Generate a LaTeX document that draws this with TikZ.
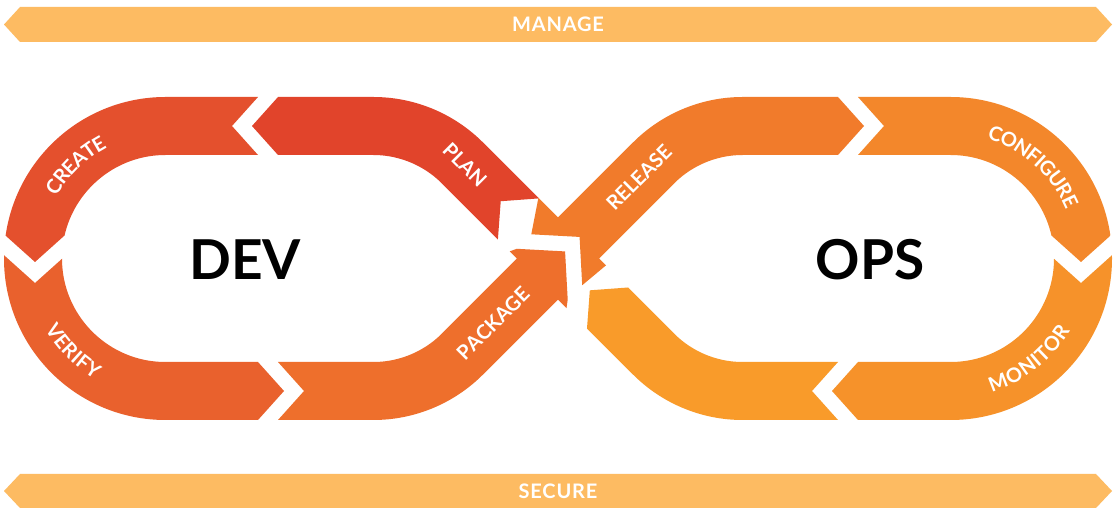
\documentclass[tikz,border=0pt]{standalone}
\usepackage{fontspec}
\setmainfont{Lato}
\newfontfamily\lblfont[LetterSpace=4]{Lato}
\usetikzlibrary{decorations.text}
\definecolor{cPlan}{HTML}{E1442B}
\definecolor{cCreate}{HTML}{E4502D}
\definecolor{cVerify}{HTML}{E9612D}
\definecolor{cPackage}{HTML}{EE6F2C}
\definecolor{cRelease}{HTML}{F17B2B}
\definecolor{cConfig}{HTML}{F3872B}
\definecolor{cMonitor}{HTML}{F6922A}
\definecolor{cBack}{HTML}{F99B2A}
\definecolor{cBar}{HTML}{FDBB62}
\newcommand\lbl{\lblfont\bfseries\fontsize{20}{20}\selectfont\color{white}}
% chevron coordinates: name, x, y, flow angle, tip depth, gap
\newcommand\mkchev[6]{%
  \begin{scope}[shift={(#2,#3)}, rotate=#4]
    \coordinate (#1Ua) at ({#5*(1-36/29)}, 36);
    \coordinate (#1Ut) at (#5, 0);
    \coordinate (#1Ub) at ({#5*(1-36/29)}, -36);
    \coordinate (#1Da) at ({#6+#5*(1-36/29)}, 36);
    \coordinate (#1Dt) at ({#6+#5}, 0);
    \coordinate (#1Db) at ({#6+#5*(1-36/29)}, -36);
  \end{scope}}
\begin{document}
\begin{tikzpicture}[x=1pt,y=1pt,
  seg/.style={line width=58pt, line join=round},
  infloop/.style={insert path={(558,258.5) -- (462.405,354.095)
     arc[start angle=45,end angle=90,radius=126] -- (165.5,391)
     arc[start angle=90,end angle=270,radius=132.5] -- (373.31,126)
     arc[start angle=-90,end angle=-45,radius=126] -- (653.595,354.095)
     arc[start angle=135,end angle=90,radius=126] -- (950.5,391)
     arc[start angle=90,end angle=-90,radius=132.5] -- (742.69,126)
     arc[start angle=-90,end angle=-135,radius=126] -- cycle}},
  lab/.style={decorate, decoration={text along path, text align=center,
     raise=-7.2pt, text={|\lbl|#1}}},
  bartext/.style={text=white, font=\lbl, inner sep=0pt},
  big/.style={font=\bfseries\fontsize{55}{55}\selectfont, text=black, inner sep=0pt}]

\fill[white] (0,0) rectangle (1117,517);
\useasboundingbox (0,0) rectangle (1117,517);

% bars
\fill[cBar] (4,492.5) -- (20,510) -- (1096,510) -- (1112,492.5) -- (1096,475) -- (20,475) -- cycle;
\fill[cBar] (4,26) -- (20,43) -- (1096,43) -- (1112,26) -- (1096,9) -- (20,9) -- cycle;
\node[bartext] (manage) at (558,492.5) {MANAGE};
\node[bartext] (secure) at (558,26) {SECURE};

% chevrons
\mkchev{1}{278}{391}{180}{26}{20}
\mkchev{2}{35}{281}{-90}{26}{21}
\mkchev{3}{258}{126}{0}{26}{20}
\mkchev{4}{546.69}{247.19}{45}{26}{20.5}
\mkchev{5}{838}{391}{0}{26}{20}
\mkchev{6}{1081}{281}{-90}{26}{21}
\mkchev{7}{858}{126}{180}{26}{20}
\mkchev{8}{607.5}{209}{135}{25}{126}

% segments
\begin{scope}
  \clip (8Da) -- (8Dt) -- (8Db) -- (530,430) -- (1Ub) -- (1Ut) -- (1Ua) -- (300,340) -- cycle;
  \draw[seg, cPlan, infloop];
\end{scope}
\begin{scope}
  \clip (1Db) -- (1Dt) -- (1Da) -- (160,300) -- (2Ua) -- (2Ut) -- (2Ub) -- (-10,430) -- cycle;
  \draw[seg, cCreate, infloop];
\end{scope}
\begin{scope}
  \clip (2Db) -- (2Dt) -- (2Da) -- (160,220) -- (3Ua) -- (3Ut) -- (3Ub) -- (-10,85) -- cycle;
  \draw[seg, cVerify, infloop];
\end{scope}
\begin{scope}
  \clip (3Db) -- (3Dt) -- (3Da) -- (330,200) -- (4Ua) -- (4Ut) -- (4Ub) -- (545,60) -- cycle;
  \draw[seg, cPackage, infloop];
\end{scope}
\begin{scope}
  \clip (4Db) -- (4Dt) -- (4Da) -- (560,430) -- (5Ua) -- (5Ut) -- (5Ub) -- (700,330) -- cycle;
  \draw[seg, cRelease, infloop];
\end{scope}
\begin{scope}
  \clip (5Db) -- (5Dt) -- (5Da) -- (1125,430) -- (6Ua) -- (6Ut) -- (6Ub) -- (960,300) -- cycle;
  \draw[seg, cConfig, infloop];
\end{scope}
\begin{scope}
  \clip (6Da) -- (6Dt) -- (6Db) -- (960,220) -- (7Ub) -- (7Ut) -- (7Ua) -- (1125,85) -- cycle;
  \draw[seg, cMonitor, infloop];
\end{scope}
\begin{scope}
  \clip (7Db) -- (7Dt) -- (7Da) -- (600,80) -- (8Ua) -- (8Ut) -- (8Ub) -- (700,200) -- cycle;
  \draw[seg, cBack, infloop];
\end{scope}

% labels
\path[lab=CREATE] ([shift={(176:132.5)}]165.5,258.5) arc[start angle=176, end angle=92, radius=132.5];
\path[lab=VERIFY] ([shift={(183:132.5)}]165.5,258.5) arc[start angle=183, end angle=267, radius=132.5];
\path[lab=CONFIGURE] ([shift={(105:132.5)}]950.5,258.5) arc[start angle=105, end angle=-9, radius=132.5];
\path[lab=MONITOR] ([shift={(-109:132.5)}]950.5,258.5) arc[start angle=-109, end angle=5, radius=132.5];
\path[lab=PLAN] (415,402) -- (515,302);
\path[lab=PACKAGE] (428,128.5) -- (558,258.5);
\path[lab=RELEASE] (574,274.5) -- (704,404.5);

\node[big] (dev) at (245,257.5) {DEV};
\node[big] (ops) at (870,257.5) {OPS};
\end{tikzpicture}
\end{document}
